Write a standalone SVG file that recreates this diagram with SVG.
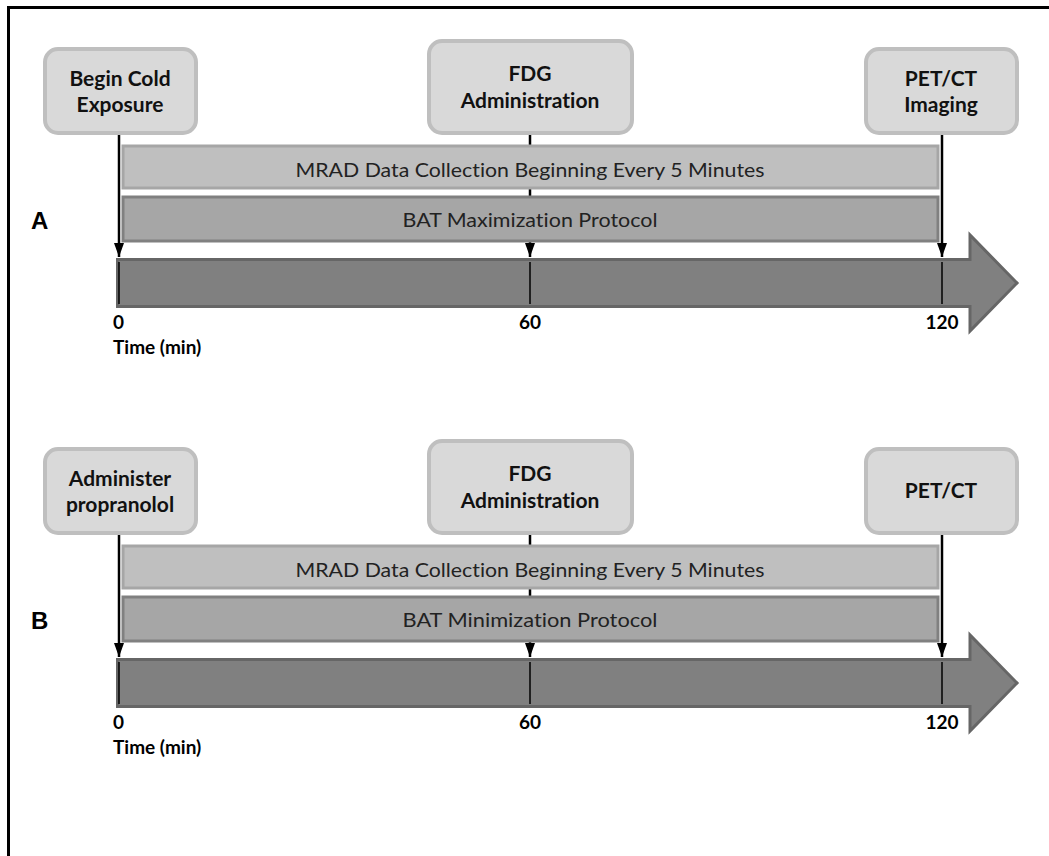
<svg xmlns="http://www.w3.org/2000/svg" width="1049" height="856" viewBox="0 0 1049 856">
<defs>
<style>
text{font-variant-ligatures:none;font-feature-settings:"liga" 0}
.frame{fill:none;stroke:#000;stroke-width:3}
.box{fill:#d9d9d9;stroke:#bfbfbf;stroke-width:4}
.bar1{fill:#bfbfbf;stroke:#a6a6a6;stroke-width:3}
.bar2{fill:#a6a6a6;stroke:#808080;stroke-width:3}
.tl{fill:#808080;stroke:#666;stroke-width:3}
.conn{stroke:#000;stroke-width:2.5;fill:none}
.tick{stroke:#000;stroke-width:1.5}
.bt{font-family:Lato,"Open Sans","Liberation Sans",sans-serif;font-weight:bold;font-size:21px;fill:#111;text-anchor:middle}
.nt{font-family:Lato,"Open Sans","Liberation Sans",sans-serif;font-size:20px;fill:#222;text-anchor:middle}
.lab{font-family:Lato,"Open Sans","Liberation Sans",sans-serif;font-weight:bold;font-size:19px;fill:#000}
.big{font-family:"Liberation Sans",Arial,sans-serif;font-weight:bold;font-size:24px;fill:#000}
</style>
<marker id="ah" viewBox="0 0 14 10" refX="14" refY="5" markerWidth="14" markerHeight="10" markerUnits="userSpaceOnUse" orient="auto">
<path d="M0,0 L14,5 L0,10 Z" fill="#000"/>
</marker>
</defs>
<path class="frame" d="M8.5,860 V7.5 H1055"/>

<g id="panelA">
<g id="connectorsA">
<line class="conn" x1="119" y1="133" x2="119" y2="257" marker-end="url(#ah)"/>
<line class="conn" x1="530" y1="133" x2="530" y2="257" marker-end="url(#ah)"/>
<line class="conn" x1="942" y1="133" x2="942" y2="257" marker-end="url(#ah)"/>
</g>
<g id="barA1"><rect class="bar1" x="123" y="146" width="815" height="42"/>
<text class="nt" x="530" y="177" textLength="469" lengthAdjust="spacingAndGlyphs">MRAD Data Collection  Beginning  Every 5 Minutes</text></g>
<g id="barA2"><rect class="bar2" x="123" y="197" width="815" height="44"/>
<text class="nt" x="530" y="227" textLength="255" lengthAdjust="spacingAndGlyphs">BAT Maximization Protocol</text></g>
<g id="timelineA">
<path class="tl" d="M117.5,259.5 H970 V235 L1017,283 L970,331 V306.5 H117.5 Z"/>
<line class="tick" x1="119" y1="262" x2="119" y2="304"/>
<line class="tick" x1="530" y1="262" x2="530" y2="304"/>
<line class="tick" x1="942" y1="262" x2="942" y2="304"/>
<text class="lab" x="113" y="329">0</text>
<text class="lab" x="530" y="329" text-anchor="middle">60</text>
<text class="lab" x="942" y="329" text-anchor="middle">120</text>
<text class="lab" x="113" y="354">Time (min)</text>
</g>
<text class="big" x="31" y="229">A</text>
<g id="nodeA1"><rect class="box" x="45" y="49" width="151" height="84" rx="13"/>
<text class="bt" x="120" y="86">Begin Cold</text><text class="bt" x="120" y="112">Exposure</text></g>
<g id="nodeA2"><rect class="box" x="429" y="41" width="203" height="92" rx="13"/>
<text class="bt" x="530" y="81">FDG</text><text class="bt" x="530" y="108">Administration</text></g>
<g id="nodeA3"><rect class="box" x="866" y="49" width="151" height="84" rx="13"/>
<text class="bt" x="941" y="86">PET/CT</text><text class="bt" x="941" y="112">Imaging</text></g>
</g>

<g id="panelB" transform="translate(0,400)">
<g id="connectorsB">
<line class="conn" x1="119" y1="133" x2="119" y2="257" marker-end="url(#ah)"/>
<line class="conn" x1="530" y1="133" x2="530" y2="257" marker-end="url(#ah)"/>
<line class="conn" x1="942" y1="133" x2="942" y2="257" marker-end="url(#ah)"/>
</g>
<g id="barB1"><rect class="bar1" x="123" y="146" width="815" height="42"/>
<text class="nt" x="530" y="177" textLength="469" lengthAdjust="spacingAndGlyphs">MRAD Data Collection  Beginning  Every 5 Minutes</text></g>
<g id="barB2"><rect class="bar2" x="123" y="197" width="815" height="44"/>
<text class="nt" x="530" y="227" textLength="255" lengthAdjust="spacingAndGlyphs">BAT Minimization Protocol</text></g>
<g id="timelineB">
<path class="tl" d="M117.5,259.5 H970 V235 L1017,283 L970,331 V306.5 H117.5 Z"/>
<line class="tick" x1="119" y1="262" x2="119" y2="304"/>
<line class="tick" x1="530" y1="262" x2="530" y2="304"/>
<line class="tick" x1="942" y1="262" x2="942" y2="304"/>
<text class="lab" x="113" y="329">0</text>
<text class="lab" x="530" y="329" text-anchor="middle">60</text>
<text class="lab" x="942" y="329" text-anchor="middle">120</text>
<text class="lab" x="113" y="354">Time (min)</text>
</g>
<text class="big" x="31" y="229">B</text>
<g id="nodeB1"><rect class="box" x="45" y="49" width="151" height="84" rx="13"/>
<text class="bt" x="120" y="86">Administer</text><text class="bt" x="120" y="112">propranolol</text></g>
<g id="nodeB2"><rect class="box" x="429" y="41" width="203" height="92" rx="13"/>
<text class="bt" x="530" y="81">FDG</text><text class="bt" x="530" y="108">Administration</text></g>
<g id="nodeB3"><rect class="box" x="866" y="49" width="151" height="84" rx="13"/>
<text class="bt" x="941" y="98">PET/CT</text></g>
</g>
</svg>
